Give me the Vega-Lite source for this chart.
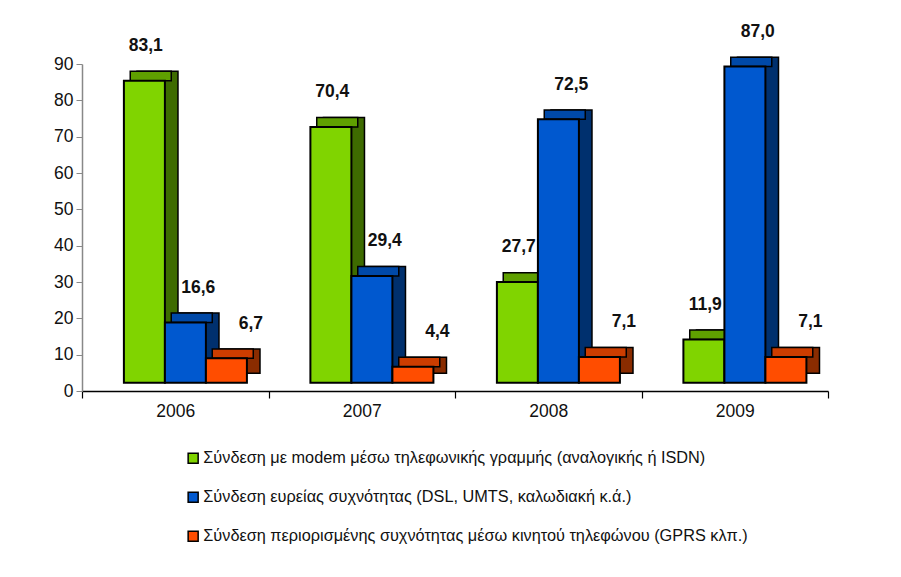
{
  "$schema": "https://vega.github.io/schema/vega-lite/v6.json",
  "width": 746,
  "height": 327,
  "autosize": {"type": "none"},
  "padding": {"left": 82, "top": 64, "right": 73, "bottom": 186},
  "background": "white",
  "config": {"font": "Liberation Sans", "view": {"stroke": null}},
  "data": {
    "values": [
      {"year": "2006", "series": "Σύνδεση με modem μέσω τηλεφωνικής γραμμής (αναλογικής ή ISDN)", "value": 83.1, "label": "83,1"},
      {"year": "2006", "series": "Σύνδεση ευρείας συχνότητας (DSL, UMTS, καλωδιακή κ.ά.)", "value": 16.6, "label": "16,6"},
      {"year": "2006", "series": "Σύνδεση  περιορισμένης  συχνότητας μέσω κινητού τηλεφώνου (GPRS κλπ.)", "value": 6.7, "label": "6,7"},
      {"year": "2007", "series": "Σύνδεση με modem μέσω τηλεφωνικής γραμμής (αναλογικής ή ISDN)", "value": 70.4, "label": "70,4"},
      {"year": "2007", "series": "Σύνδεση ευρείας συχνότητας (DSL, UMTS, καλωδιακή κ.ά.)", "value": 29.4, "label": "29,4"},
      {"year": "2007", "series": "Σύνδεση  περιορισμένης  συχνότητας μέσω κινητού τηλεφώνου (GPRS κλπ.)", "value": 4.4, "label": "4,4"},
      {"year": "2008", "series": "Σύνδεση με modem μέσω τηλεφωνικής γραμμής (αναλογικής ή ISDN)", "value": 27.7, "label": "27,7"},
      {"year": "2008", "series": "Σύνδεση ευρείας συχνότητας (DSL, UMTS, καλωδιακή κ.ά.)", "value": 72.5, "label": "72,5"},
      {"year": "2008", "series": "Σύνδεση  περιορισμένης  συχνότητας μέσω κινητού τηλεφώνου (GPRS κλπ.)", "value": 7.1, "label": "7,1"},
      {"year": "2009", "series": "Σύνδεση με modem μέσω τηλεφωνικής γραμμής (αναλογικής ή ISDN)", "value": 11.9, "label": "11,9"},
      {"year": "2009", "series": "Σύνδεση ευρείας συχνότητας (DSL, UMTS, καλωδιακή κ.ά.)", "value": 87.0, "label": "87,0"},
      {"year": "2009", "series": "Σύνδεση  περιορισμένης  συχνότητας μέσω κινητού τηλεφώνου (GPRS κλπ.)", "value": 7.1, "label": "7,1"}
    ]
  },
  "encoding": {
    "x": {
      "field": "year", "type": "nominal",
      "scale": {"paddingInner": 0, "paddingOuter": 0},
      "axis": {
        "title": null, "labelAngle": 0, "labelFontSize": 17.5, "labelColor": "#111",
        "labelPadding": 4, "tickBand": "extent", "tickSize": 7, "tickColor": "black",
        "domainColor": "black", "domainWidth": 1.5, "tickWidth": 1.2, "grid": false
      }
    },
    "y": {
      "field": "value", "type": "quantitative",
      "scale": {"domain": [0, 90], "nice": false},
      "axis": {
        "title": null, "values": [0, 10, 20, 30, 40, 50, 60, 70, 80, 90],
        "labelFontSize": 17.5, "labelColor": "#111", "tickColor": "#888",
        "domainColor": "#888", "domainWidth": 1.5, "tickSize": 6, "labelPadding": 3, "grid": false
      }
    }
  },
  "layer": [
    {
      "mark": {"type": "bar", "yOffset": -17.7, "y2Offset": -17.7, "stroke": "black", "strokeWidth": 1.5},
      "encoding": {
        "xOffset": {
          "field": "series", "type": "nominal",
          "sort": [
            "Σύνδεση με modem μέσω τηλεφωνικής γραμμής (αναλογικής ή ISDN)",
            "Σύνδεση ευρείας συχνότητας (DSL, UMTS, καλωδιακή κ.ά.)",
            "Σύνδεση  περιορισμένης  συχνότητας μέσω κινητού τηλεφώνου (GPRS κλπ.)"
          ],
          "scale": {"paddingInner": 0, "paddingOuter": 0.774, "align": 0.866}
        },
        "color": {
          "field": "series", "type": "nominal",
          "scale": {
            "domain": [
              "Σύνδεση με modem μέσω τηλεφωνικής γραμμής (αναλογικής ή ISDN)",
              "Σύνδεση ευρείας συχνότητας (DSL, UMTS, καλωδιακή κ.ά.)",
              "Σύνδεση  περιορισμένης  συχνότητας μέσω κινητού τηλεφώνου (GPRS κλπ.)"
            ],
            "range": ["#3E6B00", "#00306E", "#8A2C00"]
          },
          "legend": null
        }
      }
    },
    {
      "mark": {"type": "bar", "yOffset": -17.7, "y2Offset": -8.3, "stroke": "black", "strokeWidth": 1.5},
      "encoding": {
        "xOffset": {
          "field": "series", "type": "nominal",
          "sort": [
            "Σύνδεση με modem μέσω τηλεφωνικής γραμμής (αναλογικής ή ISDN)",
            "Σύνδεση ευρείας συχνότητας (DSL, UMTS, καλωδιακή κ.ά.)",
            "Σύνδεση  περιορισμένης  συχνότητας μέσω κινητού τηλεφώνου (GPRS κλπ.)"
          ],
          "scale": {"paddingInner": 0, "paddingOuter": 0.774, "align": 0.76}
        },
        "y2": {"field": "value"},
        "color": {
          "field": "series", "type": "nominal",
          "scale": {
            "domain": [
              "Σύνδεση με modem μέσω τηλεφωνικής γραμμής (αναλογικής ή ISDN)",
              "Σύνδεση ευρείας συχνότητας (DSL, UMTS, καλωδιακή κ.ά.)",
              "Σύνδεση  περιορισμένης  συχνότητας μέσω κινητού τηλεφώνου (GPRS κλπ.)"
            ],
            "range": ["#5FA000", "#0049A8", "#CC3D00"]
          },
          "legend": null
        }
      }
    },
    {
      "mark": {"type": "bar", "yOffset": -8.3, "y2Offset": -8.3, "stroke": "black", "strokeWidth": 2},
      "encoding": {
        "xOffset": {
          "field": "series", "type": "nominal",
          "sort": [
            "Σύνδεση με modem μέσω τηλεφωνικής γραμμής (αναλογικής ή ISDN)",
            "Σύνδεση ευρείας συχνότητας (DSL, UMTS, καλωδιακή κ.ά.)",
            "Σύνδεση  περιορισμένης  συχνότητας μέσω κινητού τηλεφώνου (GPRS κλπ.)"
          ],
          "scale": {"paddingInner": 0, "paddingOuter": 0.774, "align": 0.66}
        },
        "color": {
          "field": "series", "type": "nominal",
          "scale": {
            "domain": [
              "Σύνδεση με modem μέσω τηλεφωνικής γραμμής (αναλογικής ή ISDN)",
              "Σύνδεση ευρείας συχνότητας (DSL, UMTS, καλωδιακή κ.ά.)",
              "Σύνδεση  περιορισμένης  συχνότητας μέσω κινητού τηλεφώνου (GPRS κλπ.)"
            ],
            "range": ["#80D400", "#0058CF", "#FF4D00"]
          },
          "legend": {
            "title": null, "orient": "none", "legendX": 103, "legendY": 386,
            "direction": "vertical", "symbolType": "square", "symbolSize": 100,
            "symbolStrokeColor": "black", "symbolStrokeWidth": 1.5,
            "labelFontSize": 16.3, "labelColor": "#111", "labelLimit": 800,
            "rowPadding": 22, "labelOffset": 2
          }
        }
      }
    },
    {
      "mark": {"type": "text", "dx": 10, "dy": -43, "fontWeight": "bold", "fontSize": 17.5, "color": "#111", "baseline": "middle"},
      "encoding": {
        "xOffset": {
          "field": "series", "type": "nominal",
          "sort": [
            "Σύνδεση με modem μέσω τηλεφωνικής γραμμής (αναλογικής ή ISDN)",
            "Σύνδεση ευρείας συχνότητας (DSL, UMTS, καλωδιακή κ.ά.)",
            "Σύνδεση  περιορισμένης  συχνότητας μέσω κινητού τηλεφώνου (GPRS κλπ.)"
          ],
          "scale": {"paddingInner": 0, "paddingOuter": 0.774, "align": 0.66}
        },
        "text": {"field": "label"}
      }
    }
  ],
  "resolve": {"scale": {"color": "independent", "xOffset": "independent"}}
}
